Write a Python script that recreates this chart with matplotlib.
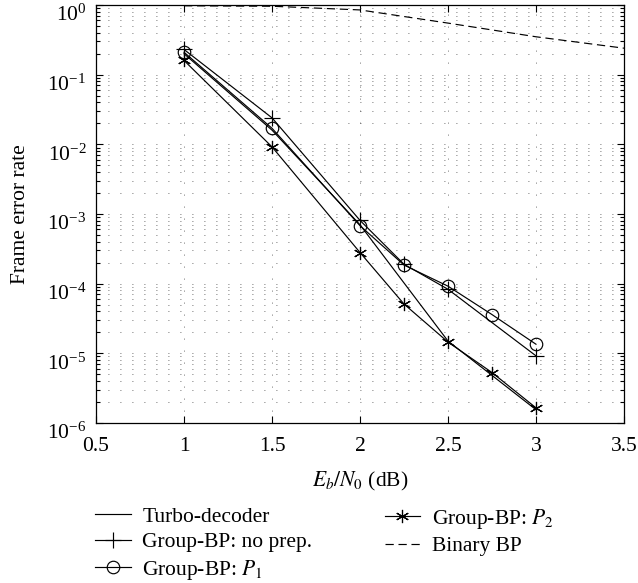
import matplotlib
matplotlib.use("Agg")
import matplotlib.pyplot as plt
from matplotlib.ticker import LogLocator, NullFormatter

plt.rcParams["font.family"] = ["Liberation Serif", "DejaVu Serif"]
plt.rcParams["mathtext.fontset"] = "stix"
plt.rcParams["font.size"] = 15.5

# values
ebn0_turbo = [1.0, 1.5, 2.0, 2.5, 3.0]
fer_turbo = [0.20, 0.016, 7.0e-4, 1.5e-5, 1.55e-6]

ebn0_noprep = [1.0, 1.5, 2.0, 2.25, 2.5, 3.0]
fer_noprep = [0.23, 0.024, 8.1e-4, 1.9e-4, 8.3e-5, 9.2e-6]

ebn0_p1 = [1.0, 1.5, 2.0, 2.25, 2.5, 2.75, 3.0]
fer_p1 = [0.21, 0.017, 6.8e-4, 1.85e-4, 9.2e-5, 3.6e-5, 1.35e-5]

ebn0_p2 = [1.0, 1.5, 2.0, 2.25, 2.5, 2.75, 3.0]
fer_p2 = [0.16, 0.0092, 2.8e-4, 5.1e-5, 1.45e-5, 5.3e-6, 1.65e-6]

ebn0_binary = [1.0, 1.5, 2.0, 2.5, 3.0, 3.5]
fer_binary = [0.975, 0.96, 0.85, 0.55, 0.35, 0.24]

xticks = [0.5, 1, 1.5, 2, 2.5, 3, 3.5]
xtick_labels = ["0.5", "1", "1.5", "2", "2.5", "3", "3.5"]

fig = plt.figure(figsize=(6.38, 5.83), dpi=100)
ax = fig.add_axes([0.1505, 0.2745, 0.8275, 0.7169])

lw = 0.85
l_turbo, = ax.semilogy(ebn0_turbo, fer_turbo, "-", color="black", lw=lw,
                       label="Turbo-decoder")
l_noprep, = ax.semilogy(ebn0_noprep, fer_noprep, "-", color="black", lw=lw,
                        marker="+", markersize=11, markeredgewidth=0.85,
                        label="Group-BP: no prep.")
l_p1, = ax.semilogy(ebn0_p1, fer_p1, "-", color="black", lw=lw, marker="o",
                    markersize=9, markerfacecolor="none", markeredgewidth=0.85,
                    label="Group-BP: $P_1$")
l_p2, = ax.semilogy(ebn0_p2, fer_p2, "-", color="black", lw=lw,
                    marker=(6, 2, 0), markersize=9.5, markeredgewidth=0.85,
                    label="Group-BP: $P_2$")
l_bin, = ax.semilogy(ebn0_binary, fer_binary, "--", color="black", lw=lw,
                     dashes=(7, 4), label="Binary BP")

ax.set_xlim(0.5, 3.5)
ax.set_ylim(1e-6, 1)
ax.set_xticks(xticks)
ax.set_xticklabels(xtick_labels)
ax.yaxis.set_major_locator(LogLocator(base=10, numticks=10))
ax.yaxis.set_minor_locator(LogLocator(base=10, subs=range(2, 10), numticks=20))
ax.yaxis.set_minor_formatter(NullFormatter())

grid_style = dict(color="0.25", linewidth=0.6, linestyle=(0, (1, 13.4)))
ax.grid(True, which="major", axis="both", **grid_style)
ax.grid(True, which="minor", axis="y", **grid_style)

ax.tick_params(which="both", direction="in", top=True, right=True, width=0.8)
ax.tick_params(which="major", length=5)
ax.tick_params(which="minor", length=3)
ax.tick_params(axis="x", which="major", pad=10)
ax.tick_params(axis="y", which="major", pad=7)
for lab in ax.get_yticklabels():
    lab.set_verticalalignment("top")
for s in ax.spines.values():
    s.set_linewidth(0.9)

ax.set_xlabel("$E_b/N_0$ (dB)", labelpad=10)
ax.set_ylabel("Frame error rate", labelpad=12)

leg_opts = dict(loc="upper left", frameon=False, handlelength=1.65,
                handletextpad=0.55, labelspacing=0.26, borderpad=0,
                borderaxespad=0, fontsize=15.5)
fig.legend([l_turbo, l_noprep, l_p1],
           [l.get_label() for l in (l_turbo, l_noprep, l_p1)],
           bbox_to_anchor=(0.149, 0.131), **leg_opts)
fig.legend([l_p2, l_bin], [l.get_label() for l in (l_p2, l_bin)],
           bbox_to_anchor=(0.603, 0.131), **leg_opts)

fig.savefig("out.png", dpi=100)
